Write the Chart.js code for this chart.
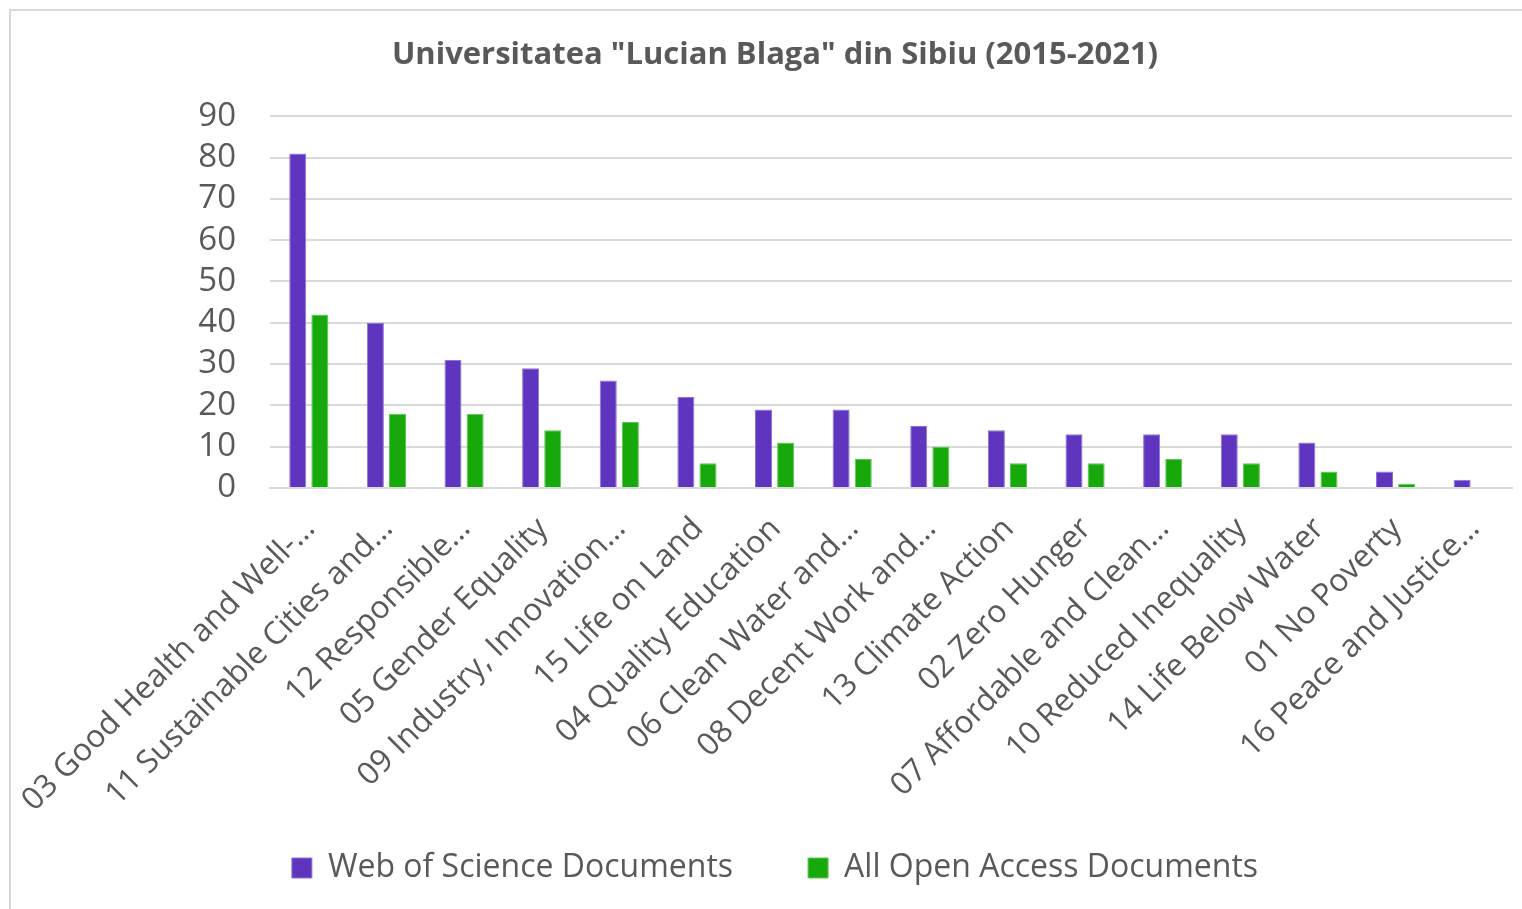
<!DOCTYPE html>
<html>
<head>
<meta charset="utf-8">
<script src="https://cdn.jsdelivr.net/npm/chart.js@4"></script>
<style>
  html, body { margin: 0; padding: 0; background: #fff; overflow: hidden; }
  #frame {
    position: absolute; left: 9px; top: 9px;
    width: 1560px; height: 920px;
    border-left: 2px solid #d9d9d9; border-top: 2px solid #d9d9d9;
  }
  #wrap { position: absolute; left: 0; top: 0; width: 1540px; height: 898px; }
</style>
</head>
<body>
<div id="frame"><div id="wrap"><canvas id="myChart"></canvas></div></div>
<script>
const categories = [
  "03 Good Health and Well-…",
  "11 Sustainable Cities and…",
  "12 Responsible…",
  "05 Gender Equality",
  "09 Industry, Innovation…",
  "15 Life on Land",
  "04 Quality Education",
  "06 Clean Water and…",
  "08 Decent Work and…",
  "13 Climate Action",
  "02 Zero Hunger",
  "07 Affordable and Clean…",
  "10 Reduced Inequality",
  "14 Life Below Water",
  "01 No Poverty",
  "16 Peace and Justice…"
];
const webOfScience = [81, 40, 31, 29, 26, 22, 19, 19, 15, 14, 13, 13, 13, 11, 4, 2];
const openAccess   = [42, 18, 18, 14, 16, 6, 11, 7, 10, 6, 6, 7, 6, 4, 1, 0];
const seriesNames = ["Web of Science Documents", "All Open Access Documents"];
const yTicks = [0, 10, 20, 30, 40, 50, 60, 70, 80, 90];

const textColor = '#595959';
const fontFamily = '"Open Sans", "Noto Sans", sans-serif';

new Chart(document.getElementById('myChart'), {
  type: 'bar',
  data: {
    labels: categories,
    datasets: [
      {
        label: seriesNames[0],
        data: webOfScience,
        backgroundColor: '#5f35bf',
        borderColor: '#8f74d6',
        borderWidth: 1,
        categoryPercentage: 0.57,
        barPercentage: 0.77
      },
      {
        label: seriesNames[1],
        data: openAccess,
        backgroundColor: '#17a80b',
        borderColor: '#5cc754',
        borderWidth: 1,
        categoryPercentage: 0.57,
        barPercentage: 0.77
      }
    ]
  },
  options: {
    responsive: true,
    maintainAspectRatio: false,
    animation: false,
    layout: { padding: { left: 27, right: 39, top: 0, bottom: 15 } },
    plugins: {
      title: {
        display: true,
        text: 'Universitatea "Lucian Blaga" din Sibiu (2015-2021)',
        color: textColor,
        font: { family: fontFamily, size: 31, weight: 'bold' },
        padding: { top: 26, bottom: 42 }
      },
      legend: {
        position: 'bottom',
        labels: {
          color: textColor,
          font: { family: fontFamily, size: 32 },
          boxWidth: 20,
          boxHeight: 20,
          padding: 75
        }
      },
      tooltip: { enabled: false }
    },
    scales: {
      x: {
        // mirror turns off label clipping so the rotated labels can hang into the legend band
        afterFit: (scale) => { scale.height = 289; },
        grid: { display: false, drawTicks: false },
        border: { color: '#d9d9d9', width: 2 },
        ticks: {
          color: textColor,
          font: { family: fontFamily, size: 31.5 },
          minRotation: 45,
          maxRotation: 45,
          autoSkip: false,
          mirror: true,
          padding: -49,
          labelOffset: 28
        }
      },
      y: {
        min: 0,
        max: 90,
        afterBuildTicks: (scale) => { scale.ticks = yTicks.map(v => ({ value: v })); },
        afterFit: (scale) => { scale.width = 232; },
        grid: { color: '#d9d9d9', lineWidth: 2, drawTicks: false },
        border: { display: false },
        ticks: {
          color: textColor,
          font: { family: fontFamily, size: 33 },
          autoSkip: false,
          padding: 34
        }
      }
    }
  }
});
</script>
</body>
</html>
